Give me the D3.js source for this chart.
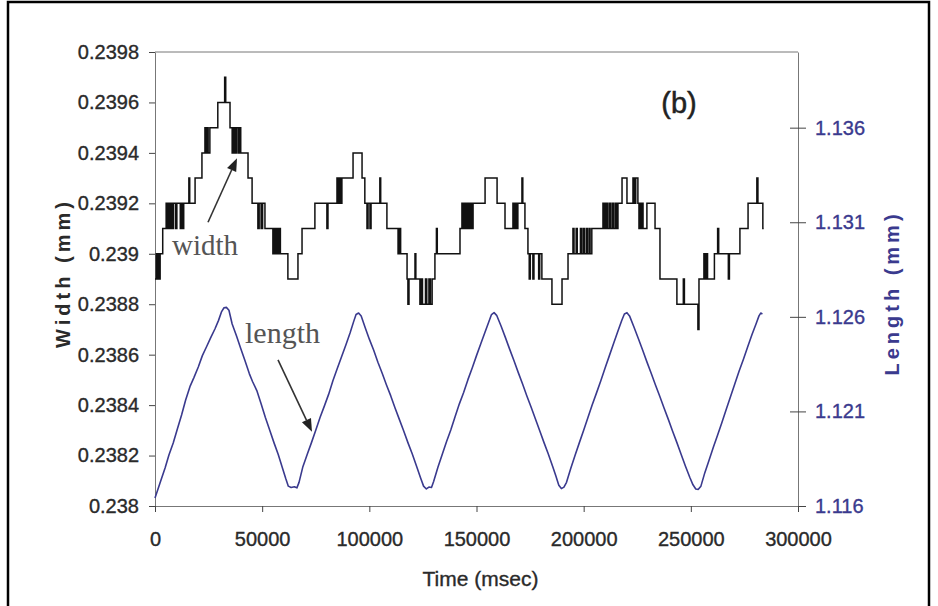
<!DOCTYPE html>
<html>
<head>
<meta charset="utf-8">
<script src="https://cdn.jsdelivr.net/npm/d3@7"></script>
<style>
  body { margin: 0; background: #fff; }
  svg { display: block; }
  .axis text { font-family: "Liberation Sans", Arial, sans-serif; font-size: 20px; stroke-width: 0.35px; }
</style>
</head>
<body>
<svg id="chart" width="938" height="606"></svg>
<script>
// tick values + the labels exactly as printed on the figure
const timeTicks = [0, 50000, 100000, 150000, 200000, 250000, 300000];
const timeTickLabels = ['0', '50000', '100000', '150000', '200000', '250000', '300000'];
const widthTicks = [0.238, 0.2382, 0.2384, 0.2386, 0.2388, 0.239, 0.2392, 0.2394, 0.2396, 0.2398];
const widthTickLabels = ['0.238', '0.2382', '0.2384', '0.2386', '0.2388', '0.239', '0.2392', '0.2394', '0.2396', '0.2398'];
const lengthTicks = [1.116, 1.121, 1.126, 1.131, 1.136];
const lengthTickLabels = ['1.116', '1.121', '1.126', '1.131', '1.136'];

// width (mm) - quantised step trace, [time ms, value]
const widthSteps = [
  [0,0.2389],[600,0.2390],[1000,0.2389],[1500,0.2390],[1900,0.2389],[2400,0.2390],[3600,0.2391],
  [5200,0.2392],[5700,0.2391],[6200,0.2392],[6800,0.2391],[7400,0.2392],[8000,0.2391],[8600,0.2392],
  [9600,0.2391],[10200,0.2392],[11800,0.2391],[12300,0.2392],[12900,0.2391],[13400,0.2392],
  [15800,0.2393],[16200,0.2392],[18700,0.2393],
  [21900,0.2394],[23300,0.2395],[23700,0.2394],[24300,0.2395],[24800,0.2394],[25600,0.2395],
  [29300,0.2396],[32500,0.2397],[33000,0.2396],
  [35000,0.2395],[36000,0.2394],[36600,0.2395],[37300,0.2394],[37900,0.2395],[38700,0.2394],[39300,0.2395],[40000,0.2394],
  [43400,0.2393],[45300,0.2392],[48000,0.2391],[48600,0.2392],[49500,0.2391],[50200,0.2392],[51300,0.2391],
  [55000,0.2390],[55500,0.2391],[56200,0.2390],[56800,0.2391],[57500,0.2390],[58000,0.2391],[58500,0.2390],
  [62000,0.2389],[66700,0.2390],[68600,0.2391],
  [74600,0.2392],[80200,0.2391],[80700,0.2392],
  [84900,0.2393],[85400,0.2392],[86000,0.2393],[86500,0.2392],[87200,0.2393],
  [92400,0.2394],[96600,0.2393],[97900,0.2392],[98900,0.2391],[99400,0.2392],[100300,0.2391],[100800,0.2392],
  [104900,0.2393],[105300,0.2392],[108200,0.2391],
  [113400,0.2390],[113900,0.2391],[114600,0.2390],
  [117600,0.2389],[118000,0.2388],[118500,0.2389],[121300,0.2390],[121700,0.2389],
  [123600,0.2388],[124200,0.2389],[124800,0.2388],[126200,0.2389],[126800,0.2388],[127800,0.2389],[128500,0.2388],[129300,0.2389],
  [130600,0.2390],[131300,0.2391],[131700,0.2390],
  [142300,0.2391],[143200,0.2392],[143800,0.2391],[144500,0.2392],[145100,0.2391],[145800,0.2392],[146500,0.2391],
  [147200,0.2392],[147800,0.2391],[148400,0.2392],
  [154000,0.2393],[159600,0.2392],[163300,0.2391],
  [167000,0.2392],[167500,0.2391],[168200,0.2392],[168700,0.2391],[169300,0.2392],
  [171200,0.2393],[171600,0.2392],[172600,0.2391],[174000,0.2390],
  [174600,0.2389],[175100,0.2390],[176300,0.2389],[176800,0.2390],[179000,0.2389],[179500,0.2390],[180500,0.2389],
  [185200,0.2388],[189900,0.2389],[192700,0.2390],
  [195000,0.2391],[195500,0.2390],[196500,0.2391],[197000,0.2390],[198500,0.2391],[199000,0.2390],[199800,0.2391],
  [200300,0.2390],[201200,0.2391],[201700,0.2390],[202500,0.2391],[203000,0.2390],[203800,0.2391],
  [209000,0.2392],[209600,0.2391],[210300,0.2392],[211000,0.2391],[211800,0.2392],[212500,0.2391],[213300,0.2392],
  [214000,0.2391],[214800,0.2392],[215300,0.2391],[216000,0.2392],
  [217900,0.2393],[220200,0.2392],[223000,0.2393],[223600,0.2392],[224300,0.2393],[225300,0.2392],[225800,0.2391],[226300,0.2392],
  [226800,0.2391],[227200,0.2392],[227700,0.2391],[229500,0.2392],[233300,0.2391],[235600,0.2389],
  [243500,0.2388],[246500,0.2389],[247000,0.2388],[253300,0.2387],[253800,0.2389],
  [256100,0.2390],[256600,0.2389],[257300,0.2390],[257800,0.2389],
  [261000,0.2390],[262500,0.2391],[263000,0.2390],[267500,0.2389],[268000,0.2390],
  [272900,0.2391],[276700,0.2392],[280800,0.2393],[281300,0.2392],[283600,0.2391],[284000,0.2391]
];

// length (mm) - triangle-ish trace, [time ms, value]
const lengthTrace = [
  [0,1.11642],[2300,1.11720],[4700,1.11801],[6500,1.11870],[8500,1.11933],[10500,1.12010],[12400,1.12081],
  [14300,1.12160],[16300,1.12231],[18200,1.12280],[20200,1.12335],[22100,1.12395],[24100,1.12443],[26000,1.12490],
  [28000,1.12537],[29600,1.12580],[31000,1.12626],[32200,1.12648],[33300,1.12650],[34500,1.12635],
  [36000,1.12562],[38000,1.12500],[40000,1.12432],[42000,1.12368],[44000,1.12300],[45500,1.12258],[47500,1.12210],
  [49500,1.12140],[51500,1.12068],[53500,1.12002],[55500,1.11935],[57500,1.11872],[59500,1.11800],[61000,1.11745],
  [62200,1.11705],[63500,1.11698],[65000,1.11702],[66200,1.11696],[67200,1.11725],
  [69000,1.11808],[71000,1.11872],[73000,1.11935],[75000,1.12000],[77000,1.12068],[79000,1.12128],[81000,1.12190],
  [83000,1.12262],[85000,1.12325],[87000,1.12388],[89000,1.12450],[91000,1.12515],[92600,1.12572],[93800,1.12612],
  [95000,1.12620],[96200,1.12604],
  [98000,1.12545],[100000,1.12482],[102000,1.12425],[104000,1.12360],[106000,1.12302],[108000,1.12240],[110000,1.12182],
  [112000,1.12118],[114000,1.12058],[116000,1.11998],[118000,1.11935],[120000,1.11876],[122000,1.11812],[123800,1.11752],
  [125300,1.11705],[126600,1.11690],[127800,1.11700],[129000,1.11698],[130000,1.11730],
  [132000,1.11805],[134000,1.11872],[136000,1.11940],[138000,1.12002],[140000,1.12072],[142000,1.12140],[144000,1.12200],
  [146000,1.12268],[148000,1.12330],[150000,1.12395],[152000,1.12458],[154000,1.12520],[155800,1.12575],[157000,1.12612],
  [158200,1.12622],[159400,1.12608],
  [161500,1.12550],[163500,1.12490],[165500,1.12428],[167500,1.12368],[169500,1.12305],[171500,1.12245],[173500,1.12182],
  [175500,1.12122],[177500,1.12060],[179500,1.11998],[181500,1.11935],[183500,1.11875],[185500,1.11810],[187000,1.11760],
  [188400,1.11710],[189600,1.11692],[190800,1.11700],[192000,1.11725],
  [194000,1.11800],[196000,1.11868],[198000,1.11935],[200000,1.12000],[202000,1.12068],[204000,1.12135],[206000,1.12198],
  [208000,1.12262],[210000,1.12330],[212000,1.12395],[214000,1.12460],[216000,1.12525],[217800,1.12582],[219000,1.12615],
  [220200,1.12622],[221400,1.12605],
  [223500,1.12545],[225500,1.12485],[227500,1.12425],[229500,1.12362],[231500,1.12302],[233500,1.12240],[235500,1.12180],
  [237500,1.12118],[239500,1.12058],[241500,1.11995],[243500,1.11935],[245500,1.11872],[247500,1.11810],[249500,1.11752],
  [251000,1.11712],[252300,1.11690],[253500,1.11688],[254700,1.11705],
  [256500,1.11775],[258500,1.11842],[260500,1.11910],[262500,1.11975],[264500,1.12042],[266500,1.12110],[268500,1.12178],
  [270500,1.12245],[272500,1.12312],[274500,1.12375],[276500,1.12440],[278500,1.12505],[280500,1.12565],[281800,1.12605],
  [282600,1.12620],[283400,1.12615]
];

const navy = '#3a3a8e';
const ink = '#2a2a2a';

const svg = d3.select('#chart');
const margin = { top: 52, right: 140, bottom: 100, left: 155 };
const width = +svg.attr('width') - margin.left - margin.right;
const height = +svg.attr('height') - margin.top - margin.bottom;

// outer figure frame
svg.append('rect')
  .attr('x', 8).attr('y', 2)
  .attr('width', 921).attr('height', 640)
  .attr('fill', 'none')
  .attr('stroke', '#000')
  .attr('stroke-width', 2.5);

const g = svg.append('g')
  .attr('transform', 'translate(' + margin.left + ',' + margin.top + ')');

const x = d3.scaleLinear().domain([0, 300000]).range([0, width]);
const yW = d3.scaleLinear().domain([0.238, 0.2398]).range([height, 0]);
const yL = d3.scaleLinear().domain([1.116, 1.140]).range([height, 0]);

// top frame line of the plot area
g.append('line')
  .attr('x1', 0).attr('x2', width)
  .attr('y1', 0).attr('y2', 0)
  .attr('stroke', '#777').attr('stroke-width', 1);

// left axis
const leftAxis = g.append('g')
  .attr('class', 'axis')
  .call(d3.axisLeft(yW)
    .tickValues(widthTicks)
    .tickFormat((d, i) => widthTickLabels[i])
    .tickSize(6).tickSizeOuter(0).tickPadding(10));

// right axis, ticks cross the line
const rightAxis = g.append('g')
  .attr('class', 'axis')
  .attr('transform', 'translate(' + width + ',0)')
  .call(d3.axisRight(yL)
    .tickValues(lengthTicks)
    .tickFormat((d, i) => lengthTickLabels[i])
    .tickSize(8).tickSizeOuter(0).tickPadding(9));
rightAxis.selectAll('.tick line').attr('x1', -8);
rightAxis.selectAll('text').attr('fill', navy).attr('stroke', navy);

// bottom axis
const bottomAxis = g.append('g')
  .attr('class', 'axis')
  .attr('transform', 'translate(0,' + height + ')')
  .call(d3.axisBottom(x)
    .tickValues(timeTicks)
    .tickFormat((d, i) => timeTickLabels[i])
    .tickSize(6).tickSizeOuter(0).tickPadding(20));

[leftAxis, bottomAxis].forEach(a => a.selectAll('text').attr('fill', ink).attr('stroke', ink));
[leftAxis, rightAxis, bottomAxis].forEach(a => {
  a.select('.domain').attr('stroke', '#777');
  a.selectAll('.tick line').attr('stroke', '#444');
});

// series
const widthLine = d3.line()
  .x(d => x(d[0]))
  .y(d => yW(d[1]))
  .curve(d3.curveStepAfter);

const lengthLine = d3.line()
  .x(d => x(d[0]))
  .y(d => yL(d[1]));

g.append('path')
  .datum(lengthTrace)
  .attr('d', lengthLine)
  .attr('fill', 'none')
  .attr('stroke', navy)
  .attr('stroke-width', 1.6)
  .attr('stroke-linejoin', 'round');

g.append('path')
  .datum(widthSteps)
  .attr('d', widthLine)
  .attr('fill', 'none')
  .attr('stroke', '#111')
  .attr('stroke-width', 1.5);

// axis titles
svg.append('text')
  .attr('transform', 'translate(70,' + 273 + ') rotate(-90)')
  .attr('text-anchor', 'middle')
  .style('font-family', '"Liberation Sans", Arial, sans-serif')
  .style('font-size', '20px')
  .style('font-weight', 'bold')
  .style('letter-spacing', '4px')
  .attr('fill', ink)
  .text('Width (mm)');

svg.append('text')
  .attr('transform', 'translate(899,' + 293 + ') rotate(-90)')
  .attr('text-anchor', 'middle')
  .style('font-family', '"Liberation Sans", Arial, sans-serif')
  .style('font-size', '20px')
  .style('font-weight', 'bold')
  .style('letter-spacing', '4px')
  .attr('fill', navy)
  .text('Length (mm)');

svg.append('text')
  .attr('x', margin.left + width / 2 + 4)
  .attr('y', 586)
  .attr('text-anchor', 'middle')
  .style('font-family', '"Liberation Sans", Arial, sans-serif')
  .style('font-size', '21px')
  .attr('fill', ink)
  .attr('stroke', ink)
  .attr('stroke-width', 0.35)
  .text('Time (msec)');

// panel label
g.append('text')
  .attr('x', x(244500))
  .attr('y', yW(0.23956))
  .attr('text-anchor', 'middle')
  .style('font-family', '"Liberation Sans", Arial, sans-serif')
  .style('font-size', '29px')
  .attr('fill', '#222')
  .attr('stroke', '#222')
  .attr('stroke-width', 0.5)
  .text('(b)');

// annotations with arrows (anchored in data units)
function arrow(x1, y1, x2, y2) {
  const ang = Math.atan2(y2 - y1, x2 - x1);
  const len = 13, hw = 5;
  const bx = x2 - len * Math.cos(ang), by = y2 - len * Math.sin(ang);
  g.append('line')
    .attr('x1', x1).attr('y1', y1).attr('x2', bx).attr('y2', by)
    .attr('stroke', '#333').attr('stroke-width', 1.6);
  const pts = [
    [x2, y2],
    [bx + hw * Math.sin(ang), by - hw * Math.cos(ang)],
    [bx - hw * Math.sin(ang), by + hw * Math.cos(ang)]
  ];
  g.append('polygon')
    .attr('points', pts.map(p => p.join(',')).join(' '))
    .attr('fill', '#222');
}

g.append('text')
  .attr('x', x(7930)).attr('y', yW(0.238995))
  .style('font-family', '"Liberation Serif", "Times New Roman", serif')
  .style('font-size', '29px')
  .attr('fill', '#555')
  .text('width');
arrow(x(24730), yW(0.239125), x(38260), yW(0.239379));

g.append('text')
  .attr('x', x(41990)).attr('y', yL(1.12462))
  .style('font-family', '"Liberation Serif", "Times New Roman", serif')
  .style('font-size', '30px')
  .attr('fill', '#555')
  .text('length');
arrow(x(57390), yL(1.123725), x(73250), yL(1.11992));
</script>
</body>
</html>
